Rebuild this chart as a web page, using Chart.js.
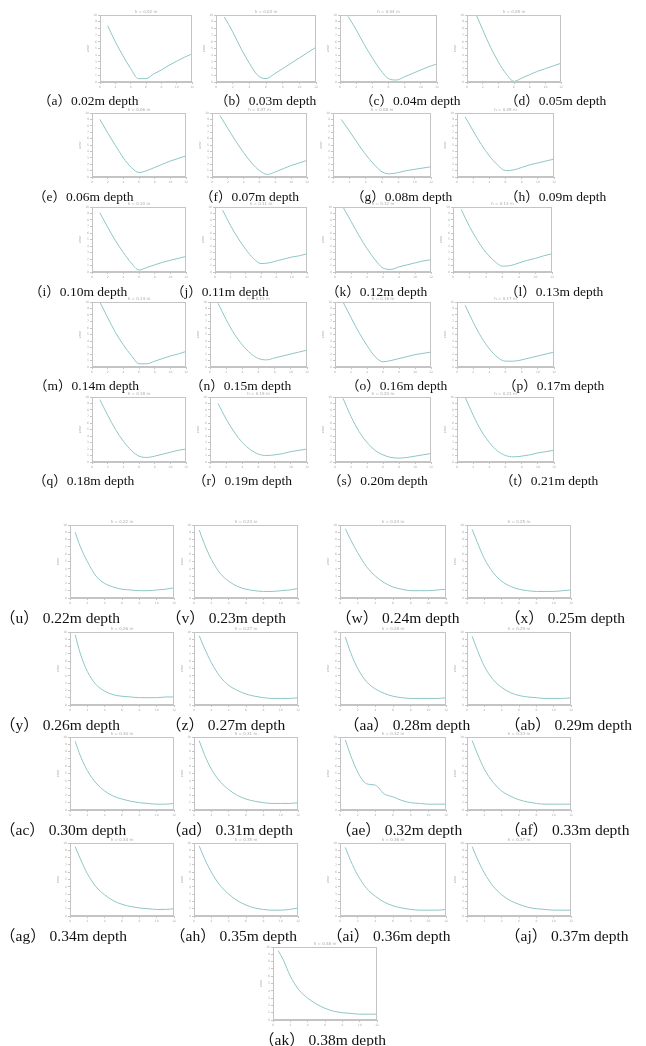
<!DOCTYPE html>
<html>
<head>
<meta charset="utf-8">
<script src="https://cdn.jsdelivr.net/npm/chart.js@4/dist/chart.umd.min.js"></script>
<style>
  html, body { margin: 0; padding: 0; background: #fff; }
  #page { position: relative; width: 646px; height: 1046px; overflow: hidden; background: #fff; }
  canvas { position: absolute; }
  .cap { position: absolute; white-space: nowrap; color: #111;
         font-family: "Liberation Serif", "Times New Roman", "Noto Sans CJK SC", serif; }
</style>
</head>
<body>
<div id="page"></div>
<script>
// x positions of the sampled points
const xs1 = [1, 2, 3, 4, 5, 6, 7, 8, 9, 10, 11, 12];
const xs2 = [0.6, 1.2, 2, 3, 4, 5, 6, 7, 8, 9, 10, 11, 12];

const letters = ['a','b','c','d','e','f','g','h','i','j','k','l','m','n','o','p','q','r','s','t',
  'u','v','w','x','y','z','aa','ab','ac','ad','ae','af','ag','ah','ai','aj','ak'];
const depths = ['0.02','0.03','0.04','0.05','0.06','0.07','0.08','0.09','0.10','0.11','0.12','0.13',
  '0.14','0.15','0.16','0.17','0.18','0.19','0.20','0.21','0.22','0.23','0.24','0.25','0.26','0.27',
  '0.28','0.29','0.30','0.31','0.32','0.33','0.34','0.35','0.36','0.37','0.38'];

// shallow depths: curve with a minimum (read at xs1)
const cA = [8.4, 6.0, 3.9, 2.0, 0.5, 0.5, 1.2, 1.8, 2.5, 3.1, 3.7, 4.2];
const cB = [9.7, 7.5, 5.0, 2.8, 1.0, 0.5, 1.2, 2.0, 2.8, 3.6, 4.4, 5.2];
const cC = [9.8, 7.8, 5.6, 3.6, 1.8, 0.5, 0.3, 0.8, 1.3, 1.8, 2.3, 2.7];
const cD = [10.5, 7.8, 5.2, 3.0, 1.2, 0.1, 0.6, 1.1, 1.6, 2.0, 2.4, 2.8];
const cE = [9.0, 6.9, 4.9, 3.0, 1.5, 0.7, 1.0, 1.5, 2.0, 2.5, 2.9, 3.3];
const cF = [9.6, 7.6, 5.6, 3.8, 2.2, 1.0, 0.4, 0.8, 1.3, 1.8, 2.2, 2.6];
const cG = [9.0, 7.2, 5.3, 3.5, 2.0, 0.8, 0.5, 0.7, 1.0, 1.2, 1.4, 1.6];
const cH = [9.4, 7.2, 5.1, 3.3, 1.9, 1.0, 1.1, 1.5, 1.9, 2.2, 2.5, 2.8];
const cI = [9.1, 6.9, 4.8, 3.0, 1.4, 0.3, 0.7, 1.1, 1.5, 1.8, 2.1, 2.4];
const cJ = [9.5, 7.2, 5.2, 3.5, 2.1, 1.3, 1.4, 1.7, 2.0, 2.3, 2.5, 2.8];
const cK = [10.0, 7.8, 5.6, 3.6, 1.9, 0.6, 0.4, 0.8, 1.1, 1.4, 1.7, 1.9];
const cL = [9.6, 7.0, 4.8, 3.0, 1.7, 0.9, 1.0, 1.4, 1.8, 2.1, 2.5, 2.8];
const cM = [10.0, 7.6, 5.3, 3.4, 1.8, 0.5, 0.5, 0.9, 1.3, 1.7, 2.0, 2.4];
const cN = [9.8, 7.3, 5.1, 3.4, 2.1, 1.3, 1.1, 1.4, 1.7, 2.0, 2.3, 2.6];
const cO = [10.0, 7.6, 5.3, 3.3, 1.6, 0.8, 1.0, 1.3, 1.6, 1.9, 2.1, 2.3];
const cP = [9.5, 6.9, 4.6, 2.8, 1.5, 0.9, 0.9, 1.1, 1.4, 1.7, 2.0, 2.3];
const cQ = [9.6, 7.2, 5.0, 3.2, 1.8, 0.9, 0.7, 0.9, 1.2, 1.5, 1.8, 2.0];
const cR = [9.0, 6.6, 4.6, 3.0, 1.9, 1.2, 1.0, 1.1, 1.3, 1.6, 1.8, 2.0];
const cS = [9.8, 7.0, 4.7, 3.0, 1.8, 1.1, 0.7, 0.6, 0.7, 0.9, 1.1, 1.3];
const cT = [10.0, 7.2, 4.8, 3.0, 1.7, 1.0, 0.8, 0.9, 1.1, 1.4, 1.6, 1.8];

// deeper depths: decaying curve (read at xs2)
const cU = [9.0, 7.0, 5.0, 3.0, 2.0, 1.5, 1.2, 1.1, 1.0, 1.0, 1.1, 1.2, 1.4];
const cV = [9.3, 7.4, 5.3, 3.4, 2.3, 1.6, 1.2, 1.0, 0.9, 0.9, 1.0, 1.1, 1.3];
const cW = [9.5, 8.0, 6.2, 4.3, 3.0, 2.1, 1.5, 1.2, 1.0, 1.0, 1.0, 1.1, 1.2];
const cX = [9.4, 7.6, 5.4, 3.5, 2.3, 1.6, 1.2, 1.0, 0.9, 0.9, 0.9, 1.0, 1.1];
const cY = [9.6, 7.0, 4.6, 2.8, 1.9, 1.4, 1.2, 1.1, 1.0, 1.0, 1.0, 1.1, 1.1];
const cZ = [9.5, 7.8, 5.8, 3.9, 2.7, 2.0, 1.5, 1.2, 1.0, 0.9, 0.9, 0.9, 1.0];
const cAA = [9.3, 7.2, 5.0, 3.2, 2.2, 1.6, 1.2, 1.0, 0.9, 0.9, 0.9, 0.9, 1.0];
const cAB = [9.4, 7.5, 5.3, 3.5, 2.4, 1.7, 1.3, 1.1, 1.0, 0.9, 0.9, 0.9, 1.0];
const cAC = [9.4, 7.4, 5.4, 3.7, 2.6, 1.9, 1.5, 1.2, 1.0, 0.9, 0.8, 0.8, 0.9];
const cAD = [9.5, 7.6, 5.6, 3.9, 2.8, 2.0, 1.5, 1.2, 1.0, 0.9, 0.9, 0.9, 1.0];
const cAE = [9.6, 7.5, 5.2, 3.6, 3.4, 2.2, 1.8, 1.3, 1.0, 0.9, 0.8, 0.8, 0.8];
const cAF = [9.5, 7.7, 5.6, 3.8, 2.6, 1.9, 1.4, 1.1, 0.9, 0.8, 0.8, 0.8, 0.8];
const cAG = [9.5, 7.8, 5.8, 4.0, 2.9, 2.1, 1.6, 1.3, 1.1, 1.0, 0.9, 0.9, 1.0];
const cAH = [9.6, 7.9, 6.0, 4.2, 3.0, 2.1, 1.5, 1.1, 0.9, 0.8, 0.8, 0.9, 1.1];
const cAI = [9.4, 7.6, 5.6, 3.8, 2.7, 1.9, 1.4, 1.1, 0.9, 0.8, 0.8, 0.8, 0.9];
const cAJ = [9.5, 7.8, 5.9, 4.1, 2.9, 2.1, 1.6, 1.2, 1.0, 0.9, 0.8, 0.8, 0.8];
const cAK = [9.5, 8.2, 6.0, 4.1, 3.0, 2.2, 1.6, 1.2, 1.0, 0.9, 0.8, 0.8, 0.8];

const curves = [cA, cB, cC, cD, cE, cF, cG, cH, cI, cJ, cK, cL, cM, cN, cO, cP, cQ, cR, cS, cT,
  cU, cV, cW, cX, cY, cZ, cAA, cAB, cAC, cAD, cAE, cAF, cAG, cAH, cAI, cAJ, cAK];

// ---- layout (plot boxes x0, x1 per column; y per row) ----
const rows1 = [[15, 82], [113, 177], [207, 272], [302, 367], [397, 462]];
const cols1 = [
  [[100, 193], [216, 317], [340, 438], [467, 562]],
  [[92, 187], [212, 308], [333, 432], [457, 555]],
  [[92, 187], [215, 308], [335, 432], [453, 553]],
  [[92, 187], [210, 308], [335, 432], [457, 555]],
  [[92, 187], [210, 308], [335, 432], [457, 555]]
];
const capX1 = [[38, 215, 360, 505], [33, 200, 351, 505], [29, 171, 326, 505], [34, 190, 346, 503], [33, 193, 328, 500]];
const capY1 = [97, 193, 288, 382, 477];

const capY2 = [615, 722, 827, 933, 1037];
const cols2 = [[70, 175], [194, 299], [340, 447], [467, 572]];
const capX2 = [[0, 166, 336, 505], [0, 166, 344, 505], [0, 166, 336, 505], [0, 170, 327, 505]];

const page = document.getElementById('page');
const PADL = 14, PADT = 6, PADR = 2, PADB = 8;

const boxPlugin = {
  id: 'box',
  afterDraw(chart, args, opts) {
    const a = chart.chartArea, ctx = chart.ctx;
    ctx.save();
    ctx.strokeStyle = '#c4c4c4';
    ctx.lineWidth = 1;
    ctx.strokeRect(Math.round(a.left) + 0.5, Math.round(a.top) + 0.5,
      Math.round(a.right - a.left) - 1, Math.round(a.bottom - a.top) - 1);
    ctx.fillStyle = '#a8a8a8';
    ctx.font = '4px "DejaVu Sans"';
    ctx.textAlign = 'center';
    ctx.textBaseline = 'bottom';
    ctx.fillText(opts.text || '', (a.left + a.right) / 2, a.top - 1);
    ctx.restore();
  }
};

function makeChart(i, x0, x1, y0, y1, xs) {
  const cv = document.createElement('canvas');
  const w = (x1 - x0) + PADL + PADR, h = (y1 - y0) + PADT + PADB;
  cv.width = w; cv.height = h;
  cv.style.left = (x0 - PADL) + 'px';
  cv.style.top = (y0 - PADT) + 'px';
  cv.style.width = w + 'px'; cv.style.height = h + 'px';
  page.appendChild(cv);
  const tick = { font: { size: 3, family: 'DejaVu Sans' }, color: '#aaa', padding: 1, autoSkip: false, maxRotation: 0 };
  new Chart(cv, {
    type: 'line',
    data: {
      labels: xs,
      datasets: [{
        data: curves[i].map((v, k) => ({ x: xs[k], y: v })),
        borderColor: '#8ec6c6',
        borderWidth: 1,
        pointRadius: 0,
        cubicInterpolationMode: 'monotone',
        fill: false
      }]
    },
    options: {
      responsive: false,
      animation: false,
      devicePixelRatio: 1,
      layout: { padding: { left: 0, right: PADR, top: PADT, bottom: 0 } },
      plugins: {
        legend: { display: false },
        tooltip: { enabled: false },
        box: { text: 'h = ' + depths[i] + ' m' }
      },
      scales: {
        x: {
          type: 'linear', min: 0, max: 12,
          ticks: Object.assign({ stepSize: 2 }, tick),
          grid: { display: true, drawOnChartArea: false, tickLength: 2, color: '#c4c4c4' },
          border: { color: '#c4c4c4' },
          afterFit: s => { s.height = PADB; }
        },
        y: {
          min: 0, max: 10,
          ticks: Object.assign({ stepSize: 1 }, tick),
          grid: { display: true, drawOnChartArea: false, tickLength: 2, color: '#c4c4c4' },
          border: { color: '#c4c4c4' },
          title: { display: true, text: 'error', font: { size: 3, family: 'DejaVu Sans' }, color: '#999', padding: 0 },
          afterFit: s => { s.width = PADL; }
        }
      }
    },
    plugins: [boxPlugin]
  });
}

function addCaption(i, x, cy, size, sep) {
  const d = document.createElement('div');
  d.className = 'cap';
  d.style.left = x + 'px';
  d.style.top = (cy - size * 0.62) + 'px';
  d.style.fontSize = size + 'px';
  d.textContent = '（' + letters[i] + '）' + sep + depths[i] + 'm depth';
  page.appendChild(d);
}

// first block: a - t
for (let r = 0; r < 5; r++) {
  for (let c = 0; c < 4; c++) {
    const i = r * 4 + c;
    makeChart(i, cols1[r][c][0], cols1[r][c][1], rows1[r][0], rows1[r][1], xs1);
    addCaption(i, capX1[r][c], capY1[r], 13.5, '');
  }
}
// second block: u - aj
for (let r = 0; r < 4; r++) {
  for (let c = 0; c < 4; c++) {
    const i = 20 + r * 4 + c;
    const bottom = capY2[r] - 17;
    makeChart(i, cols2[c][0], cols2[c][1], bottom - 73, bottom, xs2);
    addCaption(i, capX2[r][c], capY2[r], 15.5, ' ');
  }
}
// last one: ak
makeChart(36, 273, 378, capY2[4] - 17 - 73, capY2[4] - 17, xs2);
addCaption(36, 259, capY2[4], 15.5, ' ');
</script>
</body>
</html>
